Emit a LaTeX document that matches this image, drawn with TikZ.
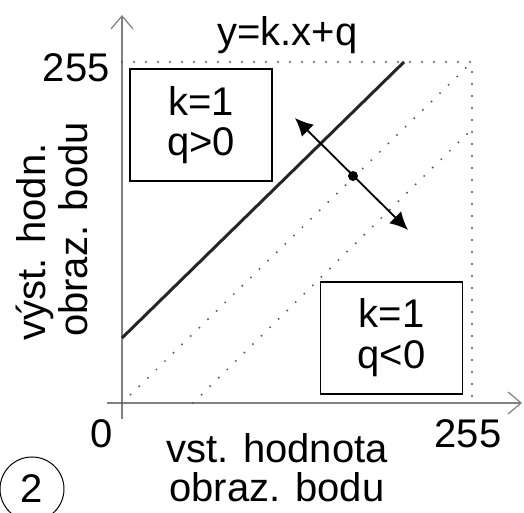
\documentclass[tikz,border=0pt]{standalone}
\usepackage{fontspec}
\setmainfont{Liberation Sans}
\usetikzlibrary{arrows.meta}

\begin{document}
\begin{tikzpicture}[x=0.5pt, y=0.5pt,
    every node/.style={font=\fontsize{20}{20}\selectfont, inner sep=0pt},
    axis/.style={draw=black!50, line width=1pt, -{Straight Barb[length=6.5pt, width=11pt, line width=0.6pt]}},
    guide/.style={draw=black!65, line width=1.1pt, line cap=round, dash pattern=on 0pt off 6pt},
    casebox/.style={draw, line width=0.8pt, minimum width=71pt, minimum height=56pt, align=center}]
  \useasboundingbox (-122,-110) rectangle (402,403);

  % axes
  \coordinate (O) at (0,0);
  \coordinate (xs) at (-15,0);
  \coordinate (xe) at (400,0);
  \coordinate (ys) at (0,-16);
  \coordinate (ye) at (0,388);
  \draw[axis] (xs) -- (xe);
  \draw[axis] (ys) -- (ye);

  % dotted frame and the two dotted lines
  \coordinate (tl) at (0,341);
  \coordinate (tr) at (350,341);
  \coordinate (br) at (350,0);
  \coordinate (qs) at (71,0);
  \coordinate (qe) at (350,274);
  \draw[guide] (tl) -- (tr) -- (br);
  \draw[guide] (O) -- (tr);
  \draw[guide] (qs) -- (qe);

  % line with q>0
  \coordinate (ls) at (0,65);
  \coordinate (le) at (282,341);
  \draw[line width=1.5pt, black!85] (ls) -- (le);

  % shift of the line
  \coordinate (pa) at (173,285);
  \coordinate (pb) at (286,173);
  \node[circle, fill, minimum size=5pt] (mid) at (231,227) {};
  \draw[{Latex[length=9pt, width=8.5pt]}-{Latex[length=9pt, width=8.5pt]}, line width=0.9pt] (pa) -- (pb);

  % boxes
  \node[casebox] (boxpos) at (79,278) {k=1\\q>0};
  \node[casebox, font=\fontsize{20}{20.5}\selectfont] (boxneg) at (269.5,65) {k=1\\q<0};

  % labels
  \node[anchor=base] (eqn) at (165.5,357) {y=k.x+q};
  \node[anchor=base east] (ymax) at (-12,321) {255};
  \node[anchor=base] (zero) at (-20,-45) {0};
  \node[anchor=base] (xmax) at (346,-45) {255};
  \node[anchor=base] (xlab1) at (155,-60) {vst. hodnota};
  \node[anchor=base] (xlab2) at (155,-99) {obraz. bodu};
  \node[rotate=90, anchor=base] (ylab1) at (-76,161) {výst. hodn.};
  \node[rotate=90, anchor=base] (ylab2) at (-34,173.5) {obraz. bodu};
  \node[draw, circle, line width=0.5pt, minimum size=32pt] (num) at (-90,-86) {2};
\end{tikzpicture}
\end{document}
